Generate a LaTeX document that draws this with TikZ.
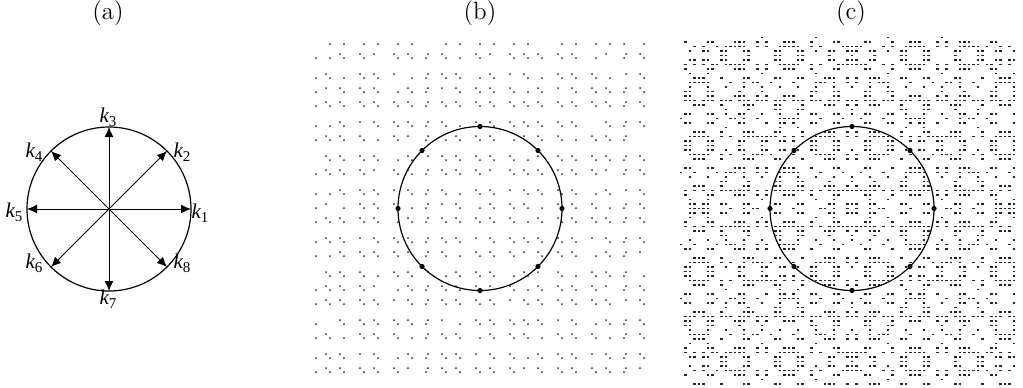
\documentclass[tikz,border=0pt]{standalone}
\usepackage{fontspec}
\newfontfamily\tms{Liberation Serif}
\usetikzlibrary{arrows.meta}
\newcommand\klab[1]{{\fontsize{10.5}{11}\selectfont\tms\itshape k}\raisebox{-1.8pt}{\fontsize{7.5}{8}\selectfont\tms #1}}
\begin{document}
\begin{tikzpicture}[x=0.5pt,y=-0.5pt,
  ring/.style={circle,draw,line width=0.6pt,inner sep=0pt,outer sep=0pt,minimum size=82pt},
  karrow/.style={line width=0.5pt,-{Latex[length=5pt,width=4.4pt]}},
  klabel/.style={inner sep=0pt},
  title/.style={inner sep=0pt,font=\fontsize{12.5}{15}\selectfont},
  sdot/.style={fill=black!85},
  bdot/.style={fill=black}]
\useasboundingbox (0,0) rectangle (1023,387);
% titles
\node[title] (ta) at (108,13.5) {(a)};
\node[title] (tb) at (480,13.5) {(b)};
\node[title] (tc) at (851,13.5) {(c)};
% panel (a)
\node[ring] (ca) at (109,209) {};
\coordinate (oa) at (109,209);
\foreach \a in {0,45,...,315}{\draw[karrow] (oa) -- (ca.\a);}
\node[klabel] (k1) at (200,213) {\klab{1}};
\node[klabel] (k2) at (182,152) {\klab{2}};
\node[klabel] (k3) at (108,117) {\klab{3}};
\node[klabel] (k4) at (34,152) {\klab{4}};
\node[klabel] (k5) at (14,212) {\klab{5}};
\node[klabel] (k6) at (34,263) {\klab{6}};
\node[klabel] (k7) at (108,299) {\klab{7}};
\node[klabel] (k8) at (182,263) {\klab{8}};
% panel (b) dots: two interleaved octonacci grids
\foreach \i in {0,...,21}{
  \foreach \j in {0,...,21}{
    \pgfmathsetmacro\xa{316+14*\i+6*floor(0.41421*\i+0.1)}
    \pgfmathsetmacro\ya{44+14*\j+6*floor(0.41421*\j+0.3)}
    \pgfmathsetmacro\xb{326+14*\i+6*floor(0.41421*\i+0.55)}
    \pgfmathsetmacro\yb{54+14*\j+6*floor(0.41421*\j+0.75)}
    \pgfmathtruncatemacro\ska{mod(3*\i+5*\j+\i*\j,7)==0}
    \pgfmathtruncatemacro\skb{mod(5*\i+2*\j+\i*\j,8)==0}
    \ifnum\ska=0 \ifdim\xa pt<647pt \ifdim\ya pt<377pt \fill[sdot] (\xa,\ya) circle[radius=1]; \fi\fi\fi
    \ifnum\skb=0 \ifdim\xb pt<647pt \ifdim\yb pt<377pt \fill[sdot] (\xb,\yb) circle[radius=1]; \fi\fi\fi
  }
}
\node[ring] (cb) at (480,208.5) {};
\foreach \a in {0,45,...,315}{\fill[bdot] (cb.\a) circle[radius=2.6];}
% panel (c) dense quasi-periodic texture (sampled at a quarter wavelength)
\foreach \i in {0,...,74}{
  \foreach \j in {0,...,77}{
    \pgfmathsetmacro\xr{4.5*(\i-38)}
    \pgfmathsetmacro\yr{4.5*(\j-38)}
    \pgfmathsetmacro\f{cos(20*\xr)+cos(20*\yr)+cos(14.142*(\xr+\yr))+cos(14.142*(\xr-\yr))}
    \pgfmathtruncatemacro\on{and(\f>0.3,\f<2.2)}
    \ifnum\on=1 \fill[sdot] (\xr+852-1.1,\yr+208.5-0.75) rectangle ++(2.2,1.5); \fi
  }
}
\node[ring] (cc) at (852,208.5) {};
\foreach \a in {0,45,...,315}{\fill[bdot] (cc.\a) circle[radius=2.6];}
\end{tikzpicture}
\end{document}
